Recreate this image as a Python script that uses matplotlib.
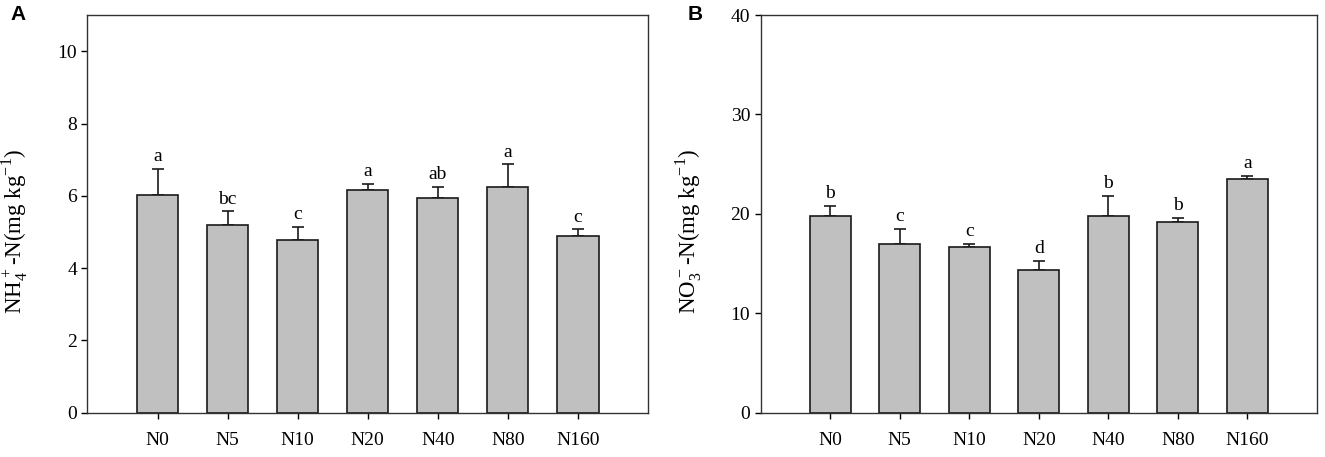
import numpy as np
import matplotlib
matplotlib.use('Agg')
import matplotlib.pyplot as plt

treatments = ['N0', 'N5', 'N10', 'N20', 'N40', 'N80', 'N160']

nh4_mean = [6.03, 5.20, 4.78, 6.15, 5.93, 6.25, 4.88]
nh4_err = [0.72, 0.37, 0.37, 0.18, 0.32, 0.62, 0.19]
nh4_letters = ['a', 'bc', 'c', 'a', 'ab', 'a', 'c']

no3_mean = [19.8, 17.0, 16.7, 14.4, 19.8, 19.2, 23.5]
no3_err = [1.0, 1.5, 0.3, 0.9, 2.0, 0.4, 0.3]
no3_letters = ['b', 'c', 'c', 'd', 'b', 'b', 'a']

plt.rcParams['font.family'] = ['Liberation Serif', 'DejaVu Serif']
plt.rcParams['mathtext.fontset'] = 'custom'
plt.rcParams['mathtext.rm'] = 'Liberation Serif'

fig = plt.figure(figsize=(13.25, 4.57), dpi=100)
ax_a = fig.add_axes([0.066, 0.097, 0.423, 0.870])
ax_b = fig.add_axes([0.574, 0.097, 0.420, 0.870])

def draw_panel(ax, means, errs, letters, ymax, yticks, ylabel, off):
    x = np.arange(len(treatments))
    ax.bar(x, means, width=0.59, color='#c0c0c0', edgecolor='#1a1a1a',
           linewidth=1.2, zorder=2)
    ax.errorbar(x, means, yerr=[np.zeros(len(errs)), errs], fmt='none',
                ecolor='#1a1a1a', elinewidth=1.2, capsize=4.3, capthick=1.2,
                zorder=1)
    for xi, m, e, lab in zip(x, means, errs, letters):
        ax.text(xi, m + e + off, lab, ha='center', va='bottom', fontsize=14)
    ax.set_xlim(-1, 7)
    ax.set_ylim(0, ymax)
    ax.set_xticks(x)
    ax.set_xticklabels(treatments, fontsize=14)
    ax.set_yticks(yticks)
    ax.tick_params(axis='y', labelsize=14, direction='out', length=4, width=1)
    ax.tick_params(axis='x', direction='out', length=4, width=1, pad=10)
    for s in ax.spines.values():
        s.set_linewidth(1.0)
        s.set_color('#333333')
    ax.set_ylabel(ylabel, fontsize=16.5)
    ax.yaxis.set_label_coords(-0.1, 0.455)

draw_panel(ax_a, nh4_mean, nh4_err, nh4_letters, 11, np.arange(0, 11, 2),
           r'NH$_4^+$-N(mg kg$^{-1}$)', 0.1)
draw_panel(ax_b, no3_mean, no3_err, no3_letters, 40, np.arange(0, 41, 10),
           r'NO$_3^-$-N(mg kg$^{-1}$)', 0.4)

fig.text(0.008, 0.99, 'A', fontsize=15, fontweight='bold',
         family='Liberation Sans', va='top')
fig.text(0.519, 0.99, 'B', fontsize=15, fontweight='bold',
         family='Liberation Sans', va='top')

plt.savefig('out.png', dpi=100)
